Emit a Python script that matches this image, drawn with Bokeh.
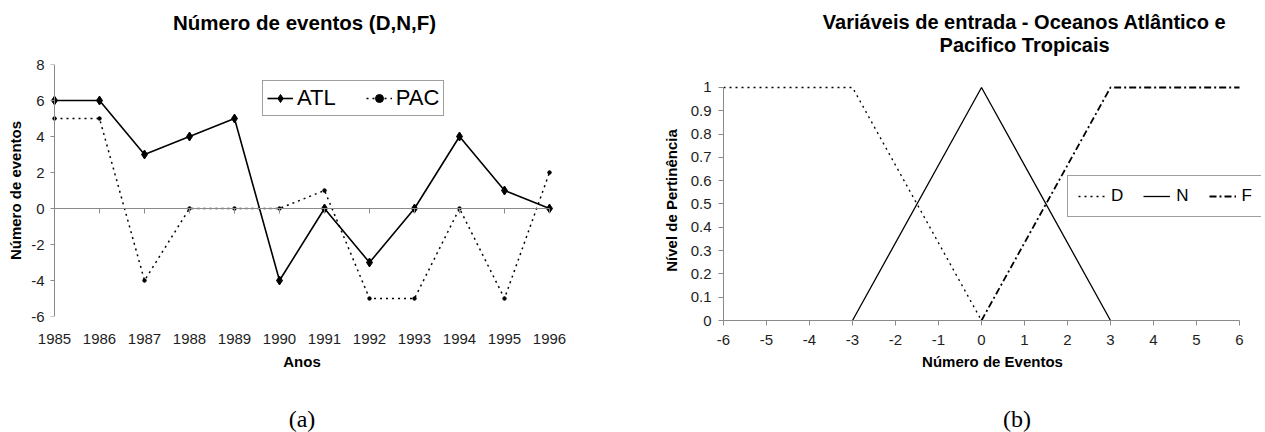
from bokeh.plotting import figure
from bokeh.models import (Range1d, LinearAxis, FixedTicker, Legend, LegendItem,
                          NumeralTickFormatter, CustomJSTickFormatter)
from bokeh.core.properties import value
from bokeh.layouts import row, column
from bokeh.embed import file_html
from bokeh.resources import INLINE

# ---------------- data: chart (a) ----------------
years = [1985, 1986, 1987, 1988, 1989, 1990, 1991, 1992, 1993, 1994, 1995, 1996]
atl = [6, 6, 3, 4, 5, -4, 0, -3, 0, 4, 1, 0]
pac = [5, 5, -4, 0, 0, 0, 1, -5, -5, 0, -5, 2]
left_yticks = [-6, -4, -2, 0, 2, 4, 6, 8]

# ---------------- data: chart (b) ----------------
ev_ticks = [-6, -5, -4, -3, -2, -1, 0, 1, 2, 3, 4, 5, 6]
pert_ticks = [0, 0.1, 0.2, 0.3, 0.4, 0.5, 0.6, 0.7, 0.8, 0.9, 1]
d_x = [-6, -3, 0]
d_y = [1, 1, 0]
n_x = [-3, 0, 3]
n_y = [0, 1, 0]
f_x = [0, 3, 6]
f_y = [0, 1, 1]

title_a = "Número de eventos (D,N,F)"
title_b = ["Variáveis de entrada - Oceanos Atlântico e", "Pacifico Tropicais"]

FONT = "Liberation Sans"
SERIF = "Liberation Serif"
AXIS_GRAY = "#8a8a8a"
TICK_TEXT = "#1e1e1e"

W1, W2 = 620, 645          # column widths
TH, PH, CH = 56, 346, 30   # title strip, chart, caption strip heights


def style_axis(ax):
    ax.major_label_text_font = FONT
    ax.major_label_text_font_size = "15px"
    ax.major_label_text_color = TICK_TEXT
    ax.axis_label_text_font = FONT
    ax.axis_label_text_font_size = "15px"
    ax.axis_label_text_font_style = "bold"
    ax.axis_label_text_color = "black"
    ax.minor_tick_in = 0
    ax.minor_tick_out = 0
    ax.axis_line_color = AXIS_GRAY
    ax.major_tick_line_color = AXIS_GRAY


def empty_fmt():
    return CustomJSTickFormatter(code="return ''")


def text_strip(w, h):
    s = figure(width=w, height=h, x_range=Range1d(0, w), y_range=Range1d(h, 0),
               output_backend="svg", toolbar_location=None, title=None,
               x_axis_location=None, y_axis_location=None, min_border=0)
    s.outline_line_color = None
    s.grid.visible = False
    s.background_fill_color = "white"
    s.border_fill_color = "white"
    return s


def base_chart(w, xr, yr, left, right, top, bottom):
    p = figure(width=w, height=PH, x_range=xr, y_range=yr, title=None,
               output_backend="svg", toolbar_location=None,
               min_border_left=left, min_border_right=right,
               min_border_top=top, min_border_bottom=bottom)
    p.outline_line_color = None
    p.grid.visible = False
    p.background_fill_color = "white"
    p.border_fill_color = "white"
    return p


# ================= chart (a) =================
# frame: x 45..558 px (1985 at 54, 45 px / year), y 64..316 px on the page
p1 = base_chart(W1, Range1d(1984.8, 1996.2), Range1d(-6, 8), 45, 62, 64 - TH, TH + PH - 316)

xa = p1.xaxis[0]
style_axis(xa)
xa.ticker = FixedTicker(ticks=years)
xa.formatter = NumeralTickFormatter(format="0")
xa.axis_line_color = None
xa.major_tick_in = 0
xa.major_tick_out = 0
xa.major_label_standoff = 17
xa.axis_label = "Anos"
xa.axis_label_standoff = 6

ya = p1.yaxis[0]
style_axis(ya)
ya.ticker = FixedTicker(ticks=left_yticks)
ya.formatter = NumeralTickFormatter(format="0")
ya.axis_line_color = None
ya.major_tick_in = 0
ya.major_tick_out = 0
ya.major_label_standoff = 1
ya.axis_label = "Número de eventos"
ya.axis_label_standoff = 4

# category axis line crossing the value axis at 0
zero_axis = LinearAxis(fixed_location=0, ticker=FixedTicker(ticks=years), bounds=(1985, 1996),
                       formatter=empty_fmt(), major_label_standoff=0)
style_axis(zero_axis)
zero_axis.major_tick_in = 0
zero_axis.major_tick_out = 5
p1.add_layout(zero_axis, "below")

# value axis line at 1985
yline = LinearAxis(fixed_location=1985, ticker=FixedTicker(ticks=left_yticks),
                   formatter=empty_fmt(), major_label_standoff=0)
style_axis(yline)
yline.major_tick_in = 4
yline.major_tick_out = 0
p1.add_layout(yline, "right")

atl_line = p1.line(years, atl, line_color="black", line_width=1.6)
atl_pts = p1.scatter(years, atl, marker="diamond", size=9, fill_color="black", line_color="black")
pac_line = p1.line(years, pac, line_color="black", line_width=1.5, line_dash="2 4")
pac_pts = p1.scatter(years, pac, marker="circle", size=3.5, fill_color="black", line_color="black")

leg1 = Legend(items=[LegendItem(label="ATL", renderers=[atl_line, atl_pts]),
                     LegendItem(label="PAC", renderers=[pac_line, pac_pts])],
              orientation="horizontal", location=(217, 200), margin=0, padding=4,
              spacing=30, glyph_width=26, label_standoff=4, label_width=5,
              label_text_font=FONT, label_text_font_size="22px", label_text_color="black",
              border_line_color="#404040", border_line_width=1,
              background_fill_color="white", background_fill_alpha=1)
p1.add_layout(leg1)

t1 = text_strip(W1, TH)
t1.text(x=[313], y=[22], text=[title_a], text_align="center", text_baseline="middle",
        text_font=value(FONT), text_font_size=value("20.5px"), text_font_style="bold",
        text_color="black")
c1 = text_strip(W1, CH)
c1.text(x=[310], y=[16], text=["(a)"], text_align="center", text_baseline="middle",
        text_font=value(SERIF), text_font_size=value("24px"), text_color="black")

# ================= chart (b) =================
# frame: x from 723 px (-6), 43 px / unit, widened to the right so the legend fits;
# y: 0 at 320 px, 1 at 87 px (233 px / unit), padded to 1.03 at the top
R_LEFT, R_RIGHT = 103, 4
x_end = -6 + (W2 - R_LEFT - R_RIGHT) / 43
p2 = base_chart(W2, Range1d(-6, x_end), Range1d(0, 1.03), R_LEFT, R_RIGHT, 80 - TH, TH + PH - 320)

xb = p2.xaxis[0]
style_axis(xb)
xb.ticker = FixedTicker(ticks=ev_ticks)
xb.formatter = NumeralTickFormatter(format="0")
xb.bounds = (-6, 6)
xb.major_tick_out = 5
xb.major_tick_in = 0
xb.major_label_standoff = 9
xb.axis_label = "Número de Eventos"
xb.axis_label_standoff = 5

yb = p2.yaxis[0]
style_axis(yb)
yb.ticker = FixedTicker(ticks=pert_ticks)
yb.formatter = NumeralTickFormatter(format="0.[0]")
yb.bounds = (0, 1)
yb.major_tick_out = 5
yb.major_tick_in = 0
yb.major_label_standoff = 7
yb.axis_label = "Nível de Pertinência"
yb.axis_label_standoff = 8

d_line = p2.line(d_x, d_y, line_color="black", line_width=1.3, line_dash="2 4")
n_line = p2.line(n_x, n_y, line_color="black", line_width=1.3)
f_line = p2.line(f_x, f_y, line_color="black", line_width=1.8, line_dash="7 3 2 3")

leg2 = Legend(items=[LegendItem(label="D", renderers=[d_line]),
                     LegendItem(label="N", renderers=[n_line]),
                     LegendItem(label="F", renderers=[f_line])],
              orientation="horizontal", location=(344, 103), margin=0, padding=10,
              spacing=20, glyph_width=27, label_standoff=6, label_width=5,
              label_text_font=FONT, label_text_font_size="17px", label_text_color="black",
              border_line_color="#404040", border_line_width=1,
              background_fill_color="white", background_fill_alpha=1)
p2.add_layout(leg2)

t2 = text_strip(W2, TH)
t2.text(x=[361, 361], y=[21, 44], text=title_b, text_align="center", text_baseline="middle",
        text_font=value(FONT), text_font_size=value("20px"), text_font_style="bold",
        text_color="black")
c2 = text_strip(W2, CH)
c2.text(x=[352], y=[16], text=["(b)"], text_align="center", text_baseline="middle",
        text_font=value(SERIF), text_font_size=value("24px"), text_color="black")

layout = row(column(t1, p1, c1, spacing=0), column(t2, p2, c2, spacing=0), spacing=0)
open("out.html", "w").write(file_html(layout, INLINE))
